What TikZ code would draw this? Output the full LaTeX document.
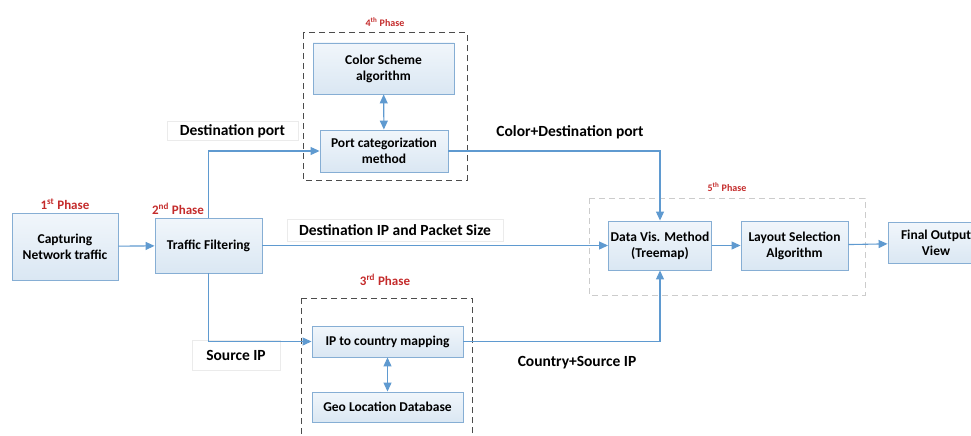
\documentclass[tikz,border=0pt]{standalone}
\usepackage{fontspec}
\setmainfont{Carlito}
\usepackage{xcolor}
\usepackage{tikz}
\usetikzlibrary{arrows.meta, positioning}
\definecolor{boxedge}{HTML}{86AED4}
\definecolor{boxtop}{HTML}{F1F6FB}
\definecolor{boxbot}{HTML}{DAE7F3}
\definecolor{linkblue}{HTML}{5F9AD0}
\definecolor{phasered}{HTML}{C42B2B}
\tikzstyle{process} = [
    rectangle,
    text centered,
    align=center,
    draw=boxedge,
    line width=0.9pt,
    inner sep=2pt,
    top color=boxtop,
    bottom color=boxbot,
    font=\bfseries\fontsize{13.5}{16}\selectfont
]
\tikzstyle{phase} = [
    text=phasered,
    font=\bfseries\fontsize{13}{15}\selectfont
]
\tikzstyle{flowlabel} = [
    draw=black!8,
    fill=white,
    inner sep=1pt,
    font=\bfseries\fontsize{15.5}{17}\selectfont
]
\tikzstyle{group} = [
    dashed,
    dash pattern=on 6pt off 4pt,
    line width=1pt
]
\tikzset{
    >={Triangle[length=9pt,width=8pt]}
}
\tikzstyle{arrow} = [
    line width=1.1pt,
    ->,
    draw=linkblue
]

\begin{document}
\begin{tikzpicture}[x=1pt,y=-1pt]
\useasboundingbox (0,0) rectangle (971,436);
\clip (0,0) rectangle (971,436);

% Phase frames
\draw [group, draw=black!70] (303,33) rectangle (467,180);
\draw [group, draw=black!70] (301,298) rectangle (472,445);
\draw [group, draw=black!20] (589,198) rectangle (865,295);

% Nodes
\node (capture) [process, minimum width=106pt, minimum height=67pt] at (65,246.5)
{Capturing\\Network traffic};

\node (filter) [process, minimum width=107pt, minimum height=55pt] at (208.5,245.5)
{Traffic Filtering};

\node (colorscheme) [process, minimum width=141pt, minimum height=51pt] at (383.5,68.5)
{Color Scheme\\algorithm};

\node (portcat) [process, minimum width=128pt, minimum height=42pt] at (384,151)
{Port categorization\\method};

\node (ipmap) [process, minimum width=151pt, minimum height=31pt] at (387.5,341.5)
{IP to country mapping};

\node (geodb) [process, minimum width=151pt, minimum height=30pt] at (387.5,407)
{Geo Location Database};

\node (datavis) [process, minimum width=103pt, minimum height=49pt] at (660,245.5)
{Data Vis. Method\\(Treemap)};

\node (layout) [process, minimum width=107pt, minimum height=49pt] at (794.5,245.5)
{Layout Selection\\Algorithm};

\node (final) [process, minimum width=96pt, minimum height=41pt] at (936,243)
{Final Output\\View};

% Phase labels
\node (p1) [phase] at (65,204) {1\textsuperscript{st} Phase};
\node (p2) [phase] at (178,209) {2\textsuperscript{nd} Phase};
\node (p3) [phase] at (385,280) {3\textsuperscript{rd} Phase};
\node (p4) [phase, font=\bfseries\fontsize{10}{12}\selectfont] at (385,22) {4\textsuperscript{th} Phase};
\node (p5) [phase, font=\bfseries\fontsize{10}{12}\selectfont] at (727,187) {5\textsuperscript{th} Phase};

% Flow labels
\node (dstport) [flowlabel, minimum width=131pt, minimum height=19pt] at (232.5,131) {Destination port};
\node (dstip) [flowlabel, minimum width=216pt, minimum height=22pt] at (395,230) {Destination IP and Packet Size};
\node (srcip) [flowlabel, minimum width=88pt, minimum height=30pt] at (236,355) {Source IP};
\node (colorport) [flowlabel, draw=none, fill=none] at (570,132) {Color+Destination port};
\node (countryip) [flowlabel, draw=none, fill=none] at (577,363) {Country+Source IP};

% Arrows
\draw [arrow] (capture) -- (filter);

\draw [arrow] (filter.north) |- (portcat.west);

\draw [arrow] (filter.south) |- (ipmap.west);

\draw [arrow] (filter.east) -- (datavis.west);

\draw [arrow, <->] (colorscheme) -- (portcat);

\draw [arrow, <->] (ipmap) -- (geodb);

\draw [arrow] (portcat.east) -| (datavis.north);

\draw [arrow] (ipmap.east) -| (datavis.south);

\draw [arrow] (datavis) -- (layout);

\draw [arrow] (layout) -- (final);

\end{tikzpicture}
\end{document}
